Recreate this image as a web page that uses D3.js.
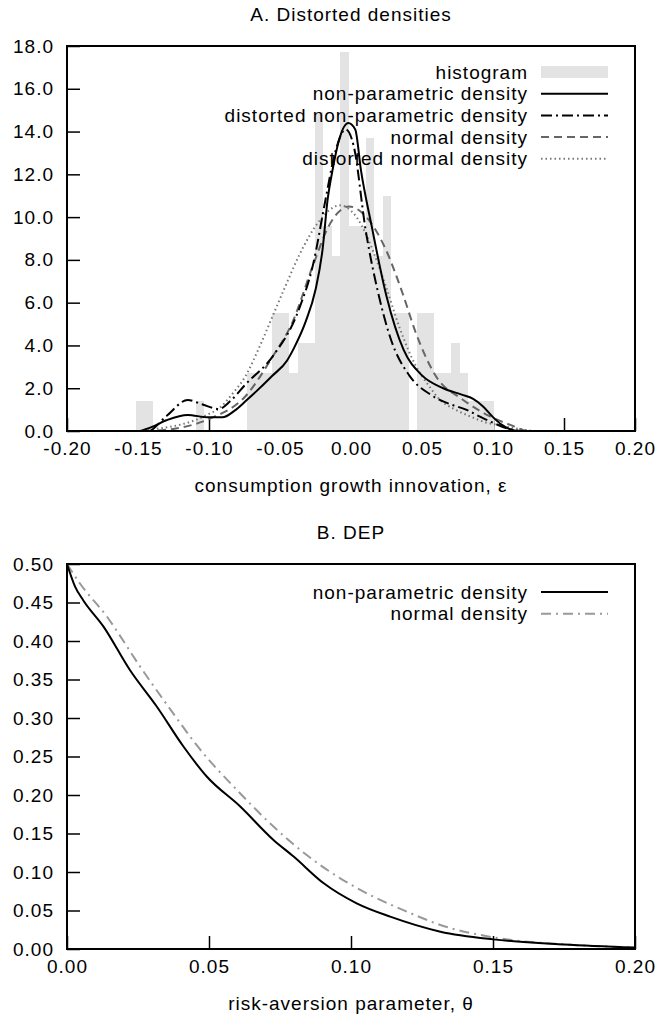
<!DOCTYPE html>
<html><head><meta charset="utf-8">
<script src="https://cdn.jsdelivr.net/npm/d3@7"></script>
<style>
body{margin:0;background:#fff}
text{font-family:"Liberation Sans",Arial,Helvetica,sans-serif;fill:#000;letter-spacing:1px}
</style>
</head><body>
<svg id="c" width="657" height="1019"></svg>
<script>
// ---------- Panel A data ----------
const titleA = "A. Distorted densities";
const xLabelA = "consumption growth innovation, \u03b5";
const xTicksA = [-0.20,-0.15,-0.10,-0.05,0.00,0.05,0.10,0.15,0.20];
const yTicksA = [0,2,4,6,8,10,12,14,16,18];
const histBinWidth = 0.006;
const histLeft   = [-0.1515,-0.1455,-0.1095,-0.0735,-0.0675,-0.0615,-0.0555,-0.0495,-0.0435,-0.0375,-0.0315,-0.0255,-0.0195,-0.0135,-0.0075,-0.0015,0.0045,0.0105,0.0165,0.0225,0.0285,0.0345,0.0465,0.0525,0.0585,0.0645,0.0705,0.0765,0.0825,0.0885,0.0945];
const histHeight = [1.4,1.4,1.4,2.7,2.7,2.7,5.5,5.5,2.7,4.1,4.1,14.9,9.6,8.2,17.7,9.6,9.6,13.7,8.2,11.0,5.5,5.5,5.5,5.5,2.7,2.7,4.1,2.7,1.4,1.4,1.4];

const npX = [-0.20,-0.15,-0.141,-0.13,-0.115,-0.101,-0.0906,-0.082,-0.074,-0.0554,-0.045,-0.040,-0.032,-0.025,-0.020,-0.0165,-0.013,-0.008,-0.002,0.003,0.007,0.0145,0.025,0.037,0.050,0.065,0.078,0.086,0.093,0.100,0.106,0.112,0.118,0.20];
const npY = [0,0,0.17,0.5,0.75,0.64,0.64,0.95,1.41,2.58,3.3,3.9,5.1,6.6,8.5,10.8,12.2,13.7,14.4,14.1,12.2,9.6,6.3,3.8,2.6,2.0,1.7,1.5,1.15,0.65,0.3,0.08,0,0];

const dnpX = [-0.20,-0.143,-0.13,-0.115,-0.105,-0.093,-0.085,-0.074,-0.055,-0.0366,-0.027,-0.018,-0.012,-0.0037,0.002,0.0103,0.0197,0.028,0.041,0.056,0.070,0.081,0.090,0.0995,0.110,0.120,0.20];
const dnpY = [0,0,0.7,1.45,1.25,1.03,1.4,2.2,3.5,5.7,7.7,10.8,12.8,14.1,13.3,9.4,6.3,4.3,2.6,1.7,1.25,1.0,0.7,0.4,0.12,0,0];

const nX = [-0.20,-0.145,-0.1234,-0.10,-0.074,-0.055,-0.0413,-0.027,-0.0155,-0.0014,0.0103,0.0244,0.036,0.0456,0.0596,0.078,0.0972,0.1136,0.125,0.20];
const nY = [0,0,0.12,0.56,1.65,3.5,5.07,7.7,9.6,10.5,10.04,8.5,6.5,4.6,2.58,1.5,0.71,0.25,0,0];

const dnX = [-0.20,-0.15,-0.135,-0.12,-0.11,-0.10,-0.093,-0.084,-0.074,-0.064,-0.055,-0.046,-0.0366,-0.0225,-0.008,0.0,0.0076,0.015,0.0244,0.0338,0.0456,0.055,0.062,0.072,0.083,0.095,0.1066,0.12,0.13,0.20];
const dnY = [0,0,0.12,0.3,0.5,0.8,1.05,1.7,2.6,4.0,5.4,6.8,8.2,9.8,10.55,10.3,9.6,8.5,6.8,4.9,3.05,2.1,1.5,1.05,0.71,0.4,0.25,0.08,0,0];

const legendA = ["histogram","non-parametric density","distorted non-parametric density","normal density","distorted normal density"];

// ---------- Panel B data ----------
const titleB = "B. DEP";
const xLabelB = "risk-aversion parameter, \u03b8";
const xTicksB = [0.00,0.05,0.10,0.15,0.20];
const yTicksB = [0,0.05,0.10,0.15,0.20,0.25,0.30,0.35,0.40,0.45,0.50];
const depNpX = [0,0.0028,0.0057,0.0128,0.0222,0.0316,0.041,0.0492,0.061,0.0727,0.0798,0.0904,0.102,0.1138,0.1315,0.15,0.175,0.20];
const depNpY = [0.5,0.471,0.453,0.419,0.362,0.315,0.263,0.224,0.185,0.1416,0.120,0.0853,0.0593,0.042,0.0225,0.0125,0.006,0.002];
const depNX = [0,0.0045,0.014,0.0257,0.0374,0.0456,0.061,0.0727,0.0844,0.0962,0.1079,0.1197,0.1315,0.15,0.175,0.20];
const depNY = [0.5,0.475,0.432,0.367,0.306,0.265,0.202,0.159,0.122,0.0918,0.068,0.0485,0.0312,0.0152,0.006,0.002];
const legendB = ["non-parametric density","normal density"];

// ---------- drawing ----------
const svg = d3.select("#c");
const FS = 19;
const L = 67, R = 635;
const panels = [{top:46,bottom:431},{top:564,bottom:949}];

function setupPanel(p, xDom, yDom, xT, yT, xFmt, yFmt, title, xlab) {
  const g = svg.append("g");
  const x = d3.scaleLinear().domain(xDom).range([L,R]);
  const y = d3.scaleLinear().domain(yDom).range([p.bottom,p.top]);
  const ax = g.append("g").attr("transform",`translate(0,${p.bottom})`)
    .call(d3.axisBottom(x).tickValues(xT).tickFormat(xFmt).tickSizeInner(-13).tickSizeOuter(0).tickPadding(11));
  const ay = g.append("g").attr("transform",`translate(${L},0)`)
    .call(d3.axisLeft(y).tickValues(yT).tickFormat(yFmt).tickSizeInner(-13).tickSizeOuter(0).tickPadding(13));
  [ax,ay].forEach(a=>{
    a.select(".domain").remove();
    a.selectAll(".tick line").attr("stroke","#000").attr("stroke-width",1.5);
    a.selectAll(".tick text").attr("font-size",FS).attr("font-family",null).attr("fill","#000");
  });
  g.append("text").attr("x",(L+R)/2).attr("y",p.top-25).attr("text-anchor","middle").attr("font-size",FS).text(title);
  g.append("text").attr("x",(L+R)/2).attr("y",p.bottom+61).attr("text-anchor","middle").attr("font-size",FS).text(xlab);
  return {g,x,y};
}
function frame(g,p){
  g.append("rect").attr("x",L).attr("y",p.top).attr("width",R-L).attr("height",p.bottom-p.top)
    .attr("fill","none").attr("stroke","#000").attr("stroke-width",2);
}
function curve(g,x,y,xs,ys,style){
  const pts = xs.map((v,i)=>[v,ys[i]]);
  const line = d3.line().x(d=>x(d[0])).y(d=>y(d[1])).curve(d3.curveMonotoneX);
  g.append("path").attr("d",line(pts)).attr("fill","none")
    .attr("stroke",style.c).attr("stroke-width",style.w)
    .attr("stroke-dasharray",style.d||null).attr("stroke-linecap",style.cap||"butt");
}
const fmt2 = v=>v.toFixed(2), fmt1 = v=>v.toFixed(1);

// Panel A
const A = setupPanel(panels[0],[-0.2,0.2],[0,18],xTicksA,yTicksA,fmt2,fmt1,titleA,xLabelA);
const histColor = "#e3e3e3";
A.g.append("g").selectAll("rect").data(histLeft).join("rect")
  .attr("x",d=>A.x(d)).attr("width",d=>A.x(d+histBinWidth)-A.x(d))
  .attr("y",(d,i)=>A.y(histHeight[i])).attr("height",(d,i)=>A.y(0)-A.y(histHeight[i]))
  .attr("fill",histColor).attr("shape-rendering","crispEdges");
const stA = [
  {c:"#777",w:2,d:"1.5,3"},                       // distorted normal (dotted)
  {c:"#666",w:2,d:"8,5"},                         // normal (dashed)
  {c:"#000",w:2,d:"11,4,2,4"},                    // distorted non-parametric (dash-dot)
  {c:"#000",w:2}                                   // non-parametric (solid)
];
curve(A.g,A.x,A.y,dnX,dnY,stA[0]);
curve(A.g,A.x,A.y,nX,nY,stA[1]);
curve(A.g,A.x,A.y,dnpX,dnpY,stA[2]);
curve(A.g,A.x,A.y,npX,npY,stA[3]);
frame(A.g,panels[0]);
const legStyleA = [null,stA[3],stA[2],stA[1],stA[0]];
const lgx1 = 541, lgx2 = 608, ltx = 528;
legendA.forEach((t,i)=>{
  const yy = panels[0].top + 26 + i*21.7;
  A.g.append("text").attr("x",ltx).attr("y",yy).attr("dy","0.35em").attr("text-anchor","end").attr("font-size",FS).text(t);
  if(i===0){
    A.g.append("rect").attr("x",lgx1).attr("y",yy-6).attr("width",lgx2-lgx1).attr("height",12).attr("fill",histColor);
  } else {
    const s = legStyleA[i];
    A.g.append("line").attr("x1",lgx1).attr("x2",lgx2).attr("y1",yy).attr("y2",yy)
      .attr("stroke",s.c).attr("stroke-width",s.w).attr("stroke-dasharray",s.d||null);
  }
});

// Panel B
const B = setupPanel(panels[1],[0,0.2],[0,0.5],xTicksB,yTicksB,fmt2,fmt2,titleB,xLabelB);
const stB = [{c:"#999",w:2,d:"10,5,2,5"},{c:"#000",w:2}];
curve(B.g,B.x,B.y,depNX,depNY,stB[0]);
curve(B.g,B.x,B.y,depNpX,depNpY,stB[1]);
frame(B.g,panels[1]);
legendB.forEach((t,i)=>{
  const yy = panels[1].top + 28 + i*21.7;
  B.g.append("text").attr("x",ltx).attr("y",yy).attr("dy","0.35em").attr("text-anchor","end").attr("font-size",FS).text(t);
  const s = i===0?stB[1]:stB[0];
  B.g.append("line").attr("x1",lgx1).attr("x2",lgx2).attr("y1",yy).attr("y2",yy)
    .attr("stroke",s.c).attr("stroke-width",s.w).attr("stroke-dasharray",s.d||null);
});
</script>
</body></html>
